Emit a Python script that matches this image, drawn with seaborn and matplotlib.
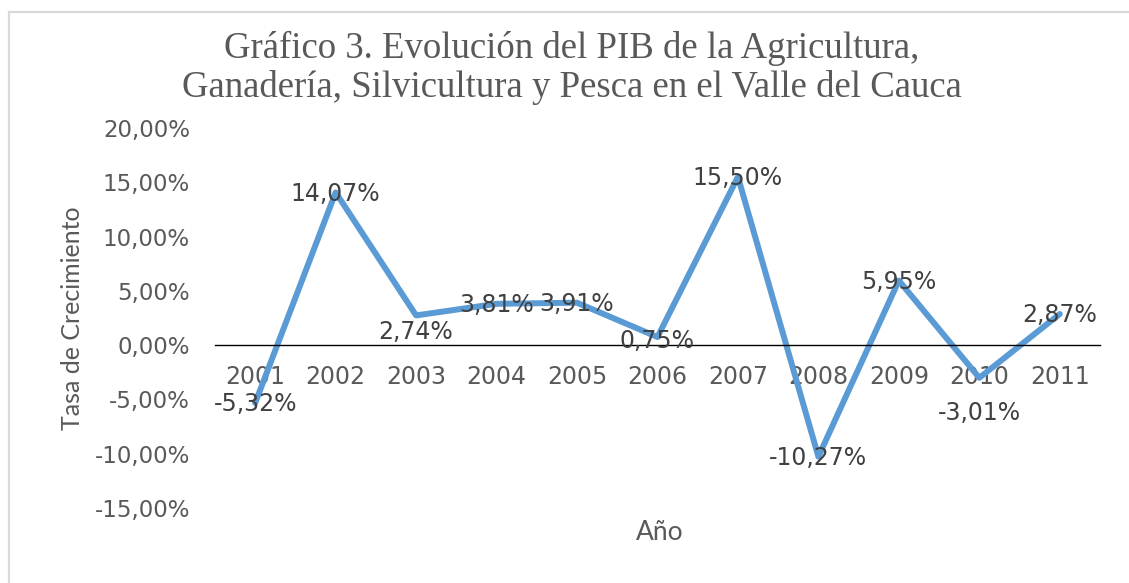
import matplotlib
matplotlib.use('Agg')
import matplotlib.pyplot as plt
import seaborn as sns
import pandas as pd
from matplotlib.patches import Rectangle
from matplotlib.ticker import FuncFormatter

# Data
years = ['2001', '2002', '2003', '2004', '2005', '2006', '2007', '2008', '2009', '2010', '2011']
growth = [-0.0532, 0.1407, 0.0274, 0.0381, 0.0391, 0.0075, 0.1550, -0.1027, 0.0595, -0.0301, 0.0287]
labels = ['-5,32%', '14,07%', '2,74%', '3,81%', '3,91%', '0,75%', '15,50%', '-10,27%', '5,95%', '-3,01%', '2,87%']

title = 'Gráfico 3. Evolución del PIB de la Agricultura,\nGanadería, Silvicultura y Pesca en el Valle del Cauca'
y_label = 'Tasa de Crecimiento'
x_label = 'Año'

df = pd.DataFrame({'year': years, 'growth': growth})

sns.set_theme(style='white')
plt.rcParams['font.family'] = ['DejaVu Sans']

fig = plt.figure(figsize=(11.29, 5.83), dpi=100)
ax = fig.add_axes([0.1904, 0.1286, 0.7839, 0.6518])

sns.lineplot(data=df, x='year', y='growth', ax=ax, color='#5B9BD5', linewidth=4.3, sort=False)

ax.set_xlim(-0.5, len(years) - 0.5)
ax.set_ylim(-0.15, 0.20)
ax.set_yticks([-0.15, -0.10, -0.05, 0.0, 0.05, 0.10, 0.15, 0.20])
ax.yaxis.set_major_formatter(FuncFormatter(lambda v, p: f'{v*100:.2f}%'.replace('.', ',')))

for s in ['top', 'right', 'left']:
    ax.spines[s].set_visible(False)
ax.spines['bottom'].set_position(('data', 0))
ax.spines['bottom'].set_color('black')
ax.spines['bottom'].set_linewidth(1.0)

ax.tick_params(axis='x', length=0, pad=14, labelsize=17, labelcolor='#595959')
ax.tick_params(axis='y', length=0, pad=18, labelsize=16.5, labelcolor='#595959')
ax.set_xlabel('')
ax.set_ylabel(y_label, fontsize=18, color='#595959', family=['Lato', 'DejaVu Sans'])
ax.yaxis.set_label_coords(-0.148, 0.5)

# data labels, a couple pushed down like in the original
offsets = {2: -12, 5: -3, 9: -25}
for i, (v, t) in enumerate(zip(growth, labels)):
    ax.annotate(t, (i, v), xytext=(0, offsets.get(i, -1)), textcoords='offset points',
                ha='center', va='center', fontsize=17, color='#404040')

fig.text(0.5066, 1 - 68 / 583, title, ha='center', va='center', fontsize=26.5,
         color='#595959', family=['Liberation Serif'], linespacing=1.14)
fig.text(660 / 1129, 1 - 532 / 583, x_label, ha='center', va='center', fontsize=19,
         color='#595959', family=['Lato', 'DejaVu Sans'])

fig.patches.append(Rectangle((8.5 / 1129, -0.1), 1.2, 1.1 - 12 / 583, transform=fig.transFigure,
                             fill=False, edgecolor='#d9d9d9', linewidth=1.6, figure=fig))

fig.savefig('out.png', dpi=100)
